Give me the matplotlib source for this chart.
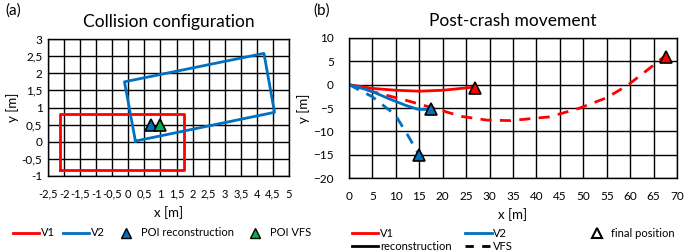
import matplotlib
matplotlib.use("Agg")
import matplotlib.pyplot as plt
from matplotlib.lines import Line2D
from matplotlib.ticker import FuncFormatter

plt.rcParams["font.family"] = ["Lato", "DejaVu Sans"]

RED = "#FF0000"
BLUE = "#0070C0"
GREEN = "#00B050"

# (a) collision configuration
v1_x = [-2.13, 1.73, 1.73, -2.13, -2.13]
v1_y = [-0.82, -0.82, 0.82, 0.82, -0.82]
v2_x = [0.22, 4.55, 4.22, -0.12, 0.22]
v2_y = [0.02, 0.86, 2.58, 1.75, 0.02]
poi_rec = (0.70, 0.50)
poi_vfs = (0.98, 0.50)

# (b) post-crash movement
v1_rec_x = [0, 5, 10, 15, 20, 26]
v1_rec_y = [0, -0.8, -1.2, -1.4, -1.2, -0.6]
v1_vfs_x = [0, 5, 12, 18.3, 24, 29.5, 34.4, 42.8, 49, 55, 59.5, 64, 67.5]
v1_vfs_y = [0, -1.5, -3.3, -5.1, -6.8, -7.6, -7.7, -6.9, -5.1, -2.8, -0.1, 3.4, 6.2]
v2_rec_x = [0, 4.7, 8.5, 12, 14.8, 17.3]
v2_rec_y = [0, -1.35, -3.0, -4.4, -5.3, -5.3]
v2_vfs_x = [0, 5, 9.9, 12.7, 14.8]
v2_vfs_y = [0, -2.6, -6.5, -11.1, -14.8]
v1_final = (26.8, -0.8)
v2_rec_final = (17.6, -5.2)
v2_vfs_final = (15.0, -15.0)
v1_vfs_final = (67.6, 6.0)


def comma_fmt(v, pos):
    return ("%g" % v).replace(".", ",")


def style_grid(ax):
    ax.grid(True, color="black", linewidth=1.0)
    ax.set_axisbelow(True)
    for sp in ax.spines.values():
        sp.set_color("black")
        sp.set_linewidth(1.0)
    ax.tick_params(length=0, labelsize=8.5, pad=4)
    ax.tick_params(axis="x", pad=9)


fig = plt.figure(figsize=(6.85, 2.52), dpi=100)
ax1 = fig.add_axes([48 / 685, 1 - 176 / 252, 241 / 685, 137 / 252])
ax2 = fig.add_axes([349 / 685, 1 - 178 / 252, 328 / 685, 140 / 252])

# panel a
ax1.plot(v1_x, v1_y, color=RED, lw=2)
ax1.plot(v2_x, v2_y, color=BLUE, lw=2)
ax1.plot(*poi_rec, marker="^", ms=9, mfc=BLUE, mec="black", mew=1.2, ls="none")
ax1.plot(*poi_vfs, marker="^", ms=9, mfc=GREEN, mec="black", mew=1.2, ls="none")
ax1.set_xlim(-2.5, 5)
ax1.set_ylim(-1, 3)
ax1.set_xticks([-2.5 + 0.5 * i for i in range(16)])
ax1.set_yticks([-1 + 0.5 * i for i in range(9)])
ax1.xaxis.set_major_formatter(FuncFormatter(comma_fmt))
ax1.yaxis.set_major_formatter(FuncFormatter(comma_fmt))
style_grid(ax1)
ax1.tick_params(axis="x", labelsize=8)
ax1.set_xlabel("x [m]", fontsize=9.5, labelpad=5)
ax1.set_ylabel("y [m]", fontsize=9.5, labelpad=2)
ax1.set_title("Collision configuration", fontsize=12.5, pad=9)

h1 = [Line2D([], [], color=RED, lw=2),
      Line2D([], [], color=BLUE, lw=2),
      Line2D([], [], marker="^", ms=7, mfc=BLUE, mec="black", ls="none"),
      Line2D([], [], marker="^", ms=7, mfc=GREEN, mec="black", ls="none")]
fig.legend(h1, ["V1", "V2", "POI reconstruction", "POI VFS"],
           loc="center", bbox_to_anchor=(162 / 685, 1 - 233 / 252), ncol=4,
           frameon=False, fontsize=8, handlelength=2.4, handletextpad=0.15,
           columnspacing=0.7, borderpad=0)

# panel b
ax2.plot(v1_rec_x, v1_rec_y, color=RED, lw=2)
ax2.plot(v1_vfs_x, v1_vfs_y, color=RED, lw=2, ls=(0, (4, 3)))
ax2.plot(v2_rec_x, v2_rec_y, color=BLUE, lw=2)
ax2.plot(v2_vfs_x, v2_vfs_y, color=BLUE, lw=2, ls=(0, (4, 3)))
for pt, c in [(v1_final, RED), (v1_vfs_final, RED),
              (v2_rec_final, BLUE), (v2_vfs_final, BLUE)]:
    ax2.plot(*pt, marker="^", ms=9, mfc=c, mec="black", mew=1.2, ls="none")
ax2.set_xlim(0, 70)
ax2.set_ylim(-20, 10)
ax2.set_xticks(range(0, 71, 5))
ax2.set_yticks(range(-20, 11, 5))
style_grid(ax2)
ax2.tick_params(axis="y", pad=11)
ax2.set_xlabel("x [m]", fontsize=9.5, labelpad=5)
ax2.set_ylabel("y [m]", fontsize=9.5, labelpad=2)
ax2.set_title("Post-crash movement", fontsize=12.5, pad=9)

h2 = [Line2D([], [], color=RED, lw=2),
      Line2D([], [], color="black", lw=2),
      Line2D([], [], color=BLUE, lw=2),
      Line2D([], [], color="black", lw=2, ls=(0, (3, 3)))]
fig.legend(h2, ["V1", "reconstruction", "V2", "VFS"],
           loc="upper left", bbox_to_anchor=(346 / 685, 1 - 222 / 252), ncol=2,
           frameon=False, fontsize=8, handlelength=2.4, handletextpad=0.15,
           columnspacing=1.2, labelspacing=0.2, borderpad=0)
h3 = [Line2D([], [], marker="^", ms=7, mfc="white", mec="black", mew=1.5, ls="none")]
fig.legend(h3, ["final position"],
           loc="upper left", bbox_to_anchor=(580 / 685, 1 - 222 / 252),
           frameon=False, fontsize=8, handlelength=2.0, handletextpad=0.3,
           borderpad=0)

fig.text(5 / 685, 1 - 11 / 252, "(a)", fontsize=11, va="center")
fig.text(313 / 685, 1 - 11 / 252, "(b)", fontsize=11, va="center")

fig.savefig("out.png", dpi=100)
